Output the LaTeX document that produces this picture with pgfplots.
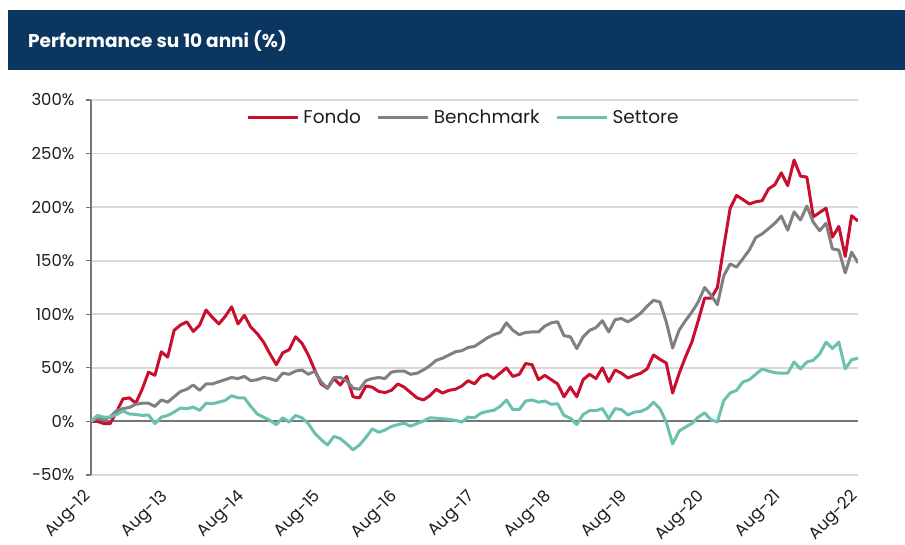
\documentclass[border=0pt]{standalone}
\usepackage{pgfplots}
\pgfplotsset{compat=1.18}
\usepackage{pgfplotstable}
\usepackage{fontspec}
\setmainfont{Poppins}
\definecolor{navy}{HTML}{0B365F}
\definecolor{fondo}{HTML}{C8102E}
\definecolor{bench}{HTML}{808080}
\definecolor{sett}{HTML}{6CC0AF}
\definecolor{gridc}{HTML}{D9D9D9}
\definecolor{axc}{HTML}{767676}
\definecolor{txt}{HTML}{1E1E1E}

\pgfplotstableread{
m f b s
0 0 0 0
1 0 3 5.6
2 -2 2 4
3 -2 4 4
4 9 10 6.5
5 21 12 9.7
6 22 13 7
7 17 16 6.5
8 30 17 5.6
9 46 17 6
10 43 14 -2
11 65 20 4
12 60 18 5.6
13 85 23 8.7
14 90 28 12.5
15 93 30 11.8
16 84 34 13.4
17 90 29 10.3
18 104 35 17
19 97 35 16.5
20 91 37 18
21 98 39 19.6
22 107 41 24
23 91 40 22
24 99 42 22
25 88 38 14
26 82 39 7
27 74 41 4
28 63 40 1
29 53 38 -3
30 64 45 3.4
31 67 44 -0.6
32 79 47 5.6
33 73 48 3.4
34 62 44 -2
35 48 47 -11
36 35 37 -17
37 31 31 -22
38 40 41 -14
39 34 41 -16
40 42 38 -21
41 23 31 -26.5
42 22 30 -22
43 33 38 -15
44 32 40 -7
45 28 41 -10
46 27 40 -8
47 29 46 -4.7
48 35 47 -3
49 32 47 -1.6
50 27 44 -4.4
51 22 45 -2
52 20 48 0.3
53 24 52 3.4
54 30 57 3
55 26.5 59 2.5
56 29 62 2
57 30 65 1
58 33 66 -0.6
59 38 69 4
60 35 70 3.4
61 42 74 7.8
62 44 78 9.3
63 40 81 10.3
64 45 83 14
65 50 92 20
66 42 85 11
67 44 81 11
68 54 83 19
69 53 83.5 20
70 39 83.5 18
71 43 89 19
72 39 92 16
73 35 93 16.5
74 23 80 5.6
75 32 79 3
76 23 68 -3
77 39 79 6.5
78 44 85 10
79 40 87.5 10
80 50 94 12
81 37 83.5 2.5
82 48 95 12
83 45 96 11
84 40.5 93 6
85 43 96.5 8.7
86 45 101 9.3
87 49 107.5 12
88 62 113 18
89 58 111.5 12
90 54.5 93 -0.6
91 26.5 68.5 -21
92 44.5 85 -9
93 60 94 -5.3
94 74 102 -2
95 94 111.5 4
96 115 125 8
97 115 118 1.6
98 125 109 -0.6
99 163 136 19.6
100 199 147 26.5
101 211 144 29
102 207 152 36.8
103 203 160 39
104 205 171.6 44
105 206 175 49
106 217 180 47
107 221 185 45.5
108 232 191.6 45
109 220 178.5 45
110 244 195.6 55.5
111 229 188 49
112 228 201 55.5
113 191 186 57
114 195 178 63
115 199 185 74
116 172 161 68
117 182 160 74
118 154 138.6 49
119 192 158 57.6
120 187 148 59
}\data

\begin{document}
\begin{tikzpicture}[x=1pt,y=1pt]
\path[use as bounding box] (0,0) rectangle (905,544);
\fill[navy] (8,474) rectangle (905,534);
\node[anchor=west, text=white, inner sep=0pt, font=\fontsize{18.5}{22}\selectfont\bfseries] at (28,503) {Performance su 10 anni (\%)};
\begin{axis}[
  at={(91pt,69pt)}, anchor=south west,
  scale only axis, width=767pt, height=375pt,
  xmin=0, xmax=120, ymin=-50, ymax=300,
  axis lines*=left,
  x axis line style={draw=none},
  y axis line style={draw=axc, line width=1.6pt},
  xtick={0,12,...,120},
  xticklabels={Aug-12,Aug-13,Aug-14,Aug-15,Aug-16,Aug-17,Aug-18,Aug-19,Aug-20,Aug-21,Aug-22},
  xtick style={draw=none},
  ytick={-50,0,50,100,150,200,250,300},
  yticklabels={-50\%,0\%,50\%,100\%,150\%,200\%,250\%,300\%},
  ytick style={draw=axc, line width=1.2pt},
  major tick length=5pt,
  tick align=outside,
  ymajorgrids,
  major grid style={draw=gridc, line width=1.6pt},
  extra y ticks={0},
  extra y tick labels={},
  extra y tick style={ymajorgrids, major grid style={draw=axc, line width=2pt}},
  yticklabel style={font=\fontsize{16.5}{19}\selectfont, text=txt, xshift=-8pt},
  xticklabel style={font=\fontsize{16.5}{19}\selectfont, text=txt, rotate=45, anchor=east},
  xticklabel shift=12pt,
  legend style={at={(0.487,0.954)}, anchor=center, draw=none, fill=none,
    font=\fontsize{18.5}{22}\selectfont, text=txt,
    /tikz/every even column/.append style={column sep=12pt},
    nodes={inner xsep=4pt}},
  legend columns=3,
  legend image code/.code={\draw[#1] (0pt,0pt) -- (50pt,0pt);},
]
\addplot[fondo, line width=3pt, line join=round] table[x=m,y=f]{\data};
\addlegendentry{Fondo}
\addplot[bench, line width=3pt, line join=round] table[x=m,y=b]{\data};
\addlegendentry{Benchmark}
\addplot[sett, line width=3pt, line join=round] table[x=m,y=s]{\data};
\addlegendentry{Settore}
\end{axis}
\end{tikzpicture}
\end{document}
